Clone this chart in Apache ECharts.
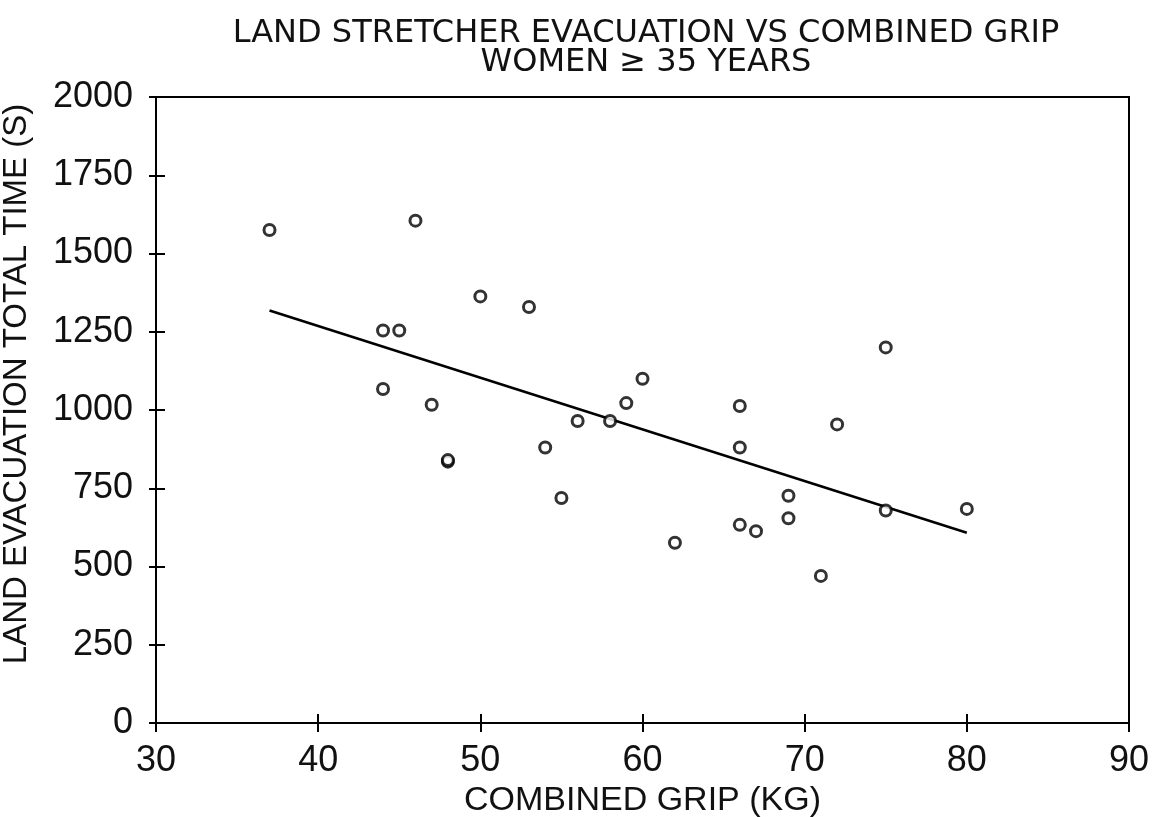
<!DOCTYPE html>
<html><head><meta charset="utf-8">
<script src="https://cdn.jsdelivr.net/npm/echarts@6/dist/echarts.min.js"></script>
<style>html,body{margin:0;padding:0;background:#fff}#c{width:1156px;height:817px}</style>
</head><body><div id="c"></div>
<script>
const gripKg = [37,46,50,53,44,45,44,47,48,48,54,55,56,58,59,60,66,66,72,69,69,66,67,62,71,75,80,75];
const timeS  = [1575,1605,1363,1329,1254,1254,1067,1017,835,840,880,719,965,965,1022,1100,1013,880,954,726,654,633,613,576,470,679,684,1200];
const fitX = [37, 80];
const fitY = [1318, 608];
const xTicks = [30,40,50,60,70,80,90];
const yTicks = [0,250,500,750,1000,1250,1500,1750,2000];
const titleLines = ['LAND STRETCHER EVACUATION VS COMBINED GRIP', 'WOMEN ≥ 35 YEARS'];
const xName = 'COMBINED GRIP (KG)';
const yName = 'LAND EVACUATION TOTAL TIME (S)';

const font = 'Liberation Sans';
const chart = echarts.init(document.getElementById('c'), null, {renderer:'canvas'});
const axisCommon = {
  axisLine:{show:true, lineStyle:{color:'#000', width:2}},
  splitLine:{show:false}
};
chart.setOption({
  animation:false,
  backgroundColor:'#fff',
  title:{text:titleLines.join('\n'), left:641, top:14, textAlign:'center',
    textStyle:{fontFamily:'DejaVu Sans', fontSize:32, fontWeight:'normal', color:'#111', lineHeight:29}},
  grid:{left:156, right:27, top:97, bottom:94, show:true, borderColor:'#000', borderWidth:2,
    containLabel:false, outerBoundsMode:'none'},
  xAxis:[
    Object.assign({type:'value', min:xTicks[0], max:xTicks[xTicks.length-1], interval:10,
      name:xName, nameLocation:'middle', nameGap:55,
      nameTextStyle:{fontFamily:font, fontSize:34, color:'#111'},
      axisTick:{show:true, length:9, lineStyle:{color:'#000', width:2}},
      axisLabel:{fontFamily:font, fontSize:36, color:'#111', margin:20}}, axisCommon),
    Object.assign({type:'value', min:xTicks[0], max:xTicks[xTicks.length-1], interval:10, position:'bottom',
      axisTick:{show:true, inside:true, length:9, lineStyle:{color:'#000', width:2}},
      axisLabel:{show:false}}, axisCommon)
  ],
  yAxis:[
    Object.assign({type:'value', min:yTicks[0], max:yTicks[yTicks.length-1], interval:250,
      name:yName, nameLocation:'middle', nameGap:123,
      nameTextStyle:{fontFamily:font, fontSize:33, color:'#111', padding:[0,0,0,52]},
      axisTick:{show:true, length:7, lineStyle:{color:'#000', width:2}},
      axisLabel:{fontFamily:font, fontSize:36, color:'#111', margin:23, formatter:v=>String(v)}}, axisCommon),
    Object.assign({type:'value', min:yTicks[0], max:yTicks[yTicks.length-1], interval:250, position:'left',
      axisTick:{show:true, inside:true, length:9, lineStyle:{color:'#000', width:2}},
      axisLabel:{show:false}}, axisCommon)
  ],
  series:[
    {type:'scatter', xAxisIndex:0, yAxisIndex:0,
     data:gripKg.map((g,i)=>[g, timeS[i]]),
     symbol:'circle', symbolSize:11,
     itemStyle:{color:'#fff', borderColor:'#000', borderWidth:3}, z:3},
    {type:'line', xAxisIndex:0, yAxisIndex:0,
     data:fitX.map((g,i)=>[g, fitY[i]]),
     showSymbol:false, lineStyle:{color:'#000', width:2.5}, z:2}
  ]
});
</script></body></html>
